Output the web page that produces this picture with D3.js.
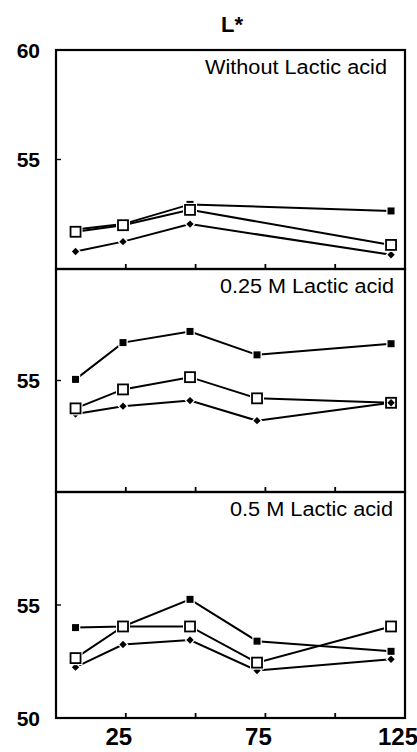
<!DOCTYPE html>
<html>
<meta charset="utf-8">
<script src="https://cdn.jsdelivr.net/npm/d3@7"></script>
<style>
  body { margin: 0; background: white; }
  svg text { font-family: "Liberation Sans", Arial, sans-serif; fill: #000; }
</style>
<body>
<div id="chart"></div>
<script>

// sampling times (x) and tick values
var xVals = [7, 24, 48, 72, 120]
var xTicks = [25, 50, 75, 100]
var xLabels = [25, 75, 125]

var panelNames = ["Without Lactic acid", "0.25 M Lactic acid", "0.5 M Lactic acid"]

// L* values, one array per series per panel (null = no point)
var filledSq = [
  [51.8, 52.05, 52.95, null, 52.65],
  [55.05, 56.7, 57.2, 56.15, 56.65],
  [54.0, 54.05, 55.25, 53.4, 52.95]
]
var openSq = [
  [51.7, 52.0, 52.7, null, 51.1],
  [53.75, 54.6, 55.15, 54.2, 54.0],
  [52.65, 54.05, 54.05, 52.45, 54.05]
]
var diamond = [
  [50.8, 51.25, 52.05, null, 50.65],
  [53.5, 53.85, 54.1, 53.2, 54.0],
  [52.25, 53.25, 53.45, 52.1, 52.6]
]

// y tick labels shown per panel
var yLabels = [[60, 55], [55], [55, 50]]

var width = 417, height = 752
var left = 56, right = 405
var panelEdges = [50, 269, 492, 718]
var labelRight = [387, 394, 393]
var labelWidth = [182, 174, 163]

var svg = d3.select("#chart").append("svg")
  .attr("width", width).attr("height", height)

var x = d3.scaleLinear().domain([0, 125]).range([left, right])

svg.append("text")
  .attr("x", 232).attr("y", 32)
  .attr("text-anchor", "middle")
  .style("font-size", "22px").style("font-weight", "bold")
  .text("L*")

function pts(vals){
  return xVals.map(function(v, i){ return [v, vals[i]] }).filter(function(d){ return d[1] != null })
}

panelNames.forEach(function(name, p){
  var top = panelEdges[p], bottom = panelEdges[p + 1]
  var y = d3.scaleLinear().domain([50, 60]).range([bottom, top])
  var g = svg.append("g")

  // frame
  g.append("rect")
    .attr("x", left).attr("y", top)
    .attr("width", right - left).attr("height", bottom - top)
    .attr("fill", "none").attr("stroke", "#000").attr("stroke-width", 2.2)

  // inward ticks on the bottom edge
  g.selectAll(".xt").data(xTicks).enter().append("line")
    .attr("x1", function(d){ return x(d) }).attr("x2", function(d){ return x(d) })
    .attr("y1", bottom).attr("y2", bottom - 5)
    .attr("stroke", "#000").attr("stroke-width", 1.8)

  // inward tick at 55
  g.append("line")
    .attr("x1", left).attr("x2", left + 5)
    .attr("y1", y(55)).attr("y2", y(55))
    .attr("stroke", "#000").attr("stroke-width", 1.4)

  g.selectAll(".yl").data(yLabels[p]).enter().append("text")
    .attr("x", 40).attr("y", function(d){ return y(d) })
    .attr("dy", "0.36em")
    .attr("text-anchor", "end")
    .style("font-size", "21px").style("font-weight", "bold")
    .text(function(d){ return d })

  g.append("text")
    .attr("x", labelRight[p] - labelWidth[p]).attr("y", top + 24)
    .attr("textLength", labelWidth[p])
    .attr("lengthAdjust", "spacingAndGlyphs")
    .style("font-size", "19.5px")
    .text(name)

  var line = d3.line()
    .x(function(d){ return x(d[0]) })
    .y(function(d){ return y(d[1]) })

  var series = [filledSq[p], openSq[p], diamond[p]]
  series.forEach(function(vals){
    g.append("path")
      .attr("d", line(pts(vals)))
      .attr("fill", "none").attr("stroke", "#000").attr("stroke-width", 2)
  })

  function drawDiamonds(data, halo){
    g.selectAll(null).data(data).enter().append("rect")
      .attr("x", -2.6).attr("y", -2.6).attr("width", 5.2).attr("height", 5.2)
      .attr("transform", function(d){ return "translate(" + x(d[0]) + "," + y(d[1]) + ") rotate(45)" })
      .attr("fill", "#000")
      .attr("stroke", halo ? "white" : "none").attr("stroke-width", 2.5)
      .style("paint-order", "stroke")
  }

  drawDiamonds(pts(diamond[p]), true)

  // filled squares
  g.selectAll(".fs").data(pts(filledSq[p])).enter().append("rect")
    .attr("x", function(d){ return x(d[0]) - 3.5 }).attr("y", function(d){ return y(d[1]) - 3.5 })
    .attr("width", 7).attr("height", 7)
    .attr("fill", "#000").attr("stroke", "white").attr("stroke-width", 2.5)
    .style("paint-order", "stroke")

  // open squares
  var os = g.selectAll(".os").data(pts(openSq[p])).enter()
  os.append("rect")
    .attr("x", function(d){ return x(d[0]) - 7 }).attr("y", function(d){ return y(d[1]) - 7 })
    .attr("width", 14).attr("height", 14)
    .attr("fill", "white")
  os.append("rect")
    .attr("x", function(d){ return x(d[0]) - 5 }).attr("y", function(d){ return y(d[1]) - 5 })
    .attr("width", 10).attr("height", 10)
    .attr("fill", "white").attr("stroke", "#000").attr("stroke-width", 1.8)

  // diamond drawn over the open square at the last time in the middle panel
  if (p == 1) drawDiamonds(pts(diamond[p]).slice(-1), false)
})

// bottom axis labels
svg.selectAll(".xl").data(xLabels).enter().append("text")
  .attr("x", function(d){ return x(d) - 7 }).attr("y", 745)
  .attr("text-anchor", "middle")
  .style("font-size", "24px").style("font-weight", "bold")
  .text(function(d){ return d })

</script>
</body>
</html>
